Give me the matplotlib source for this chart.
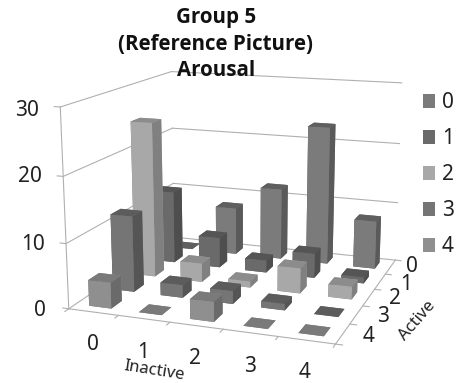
import numpy as np
import matplotlib
matplotlib.use('Agg')
import matplotlib.pyplot as plt
from matplotlib.patches import Patch

W, H = 460, 383
plt.rcParams['font.family'] = ['Noto Sans', 'DejaVu Sans']

inactive = [0, 1, 2, 3, 4]
active = [0, 1, 2, 3, 4]
z_ticks = [0, 10, 20, 30]

# one list per active level, values over inactive 0..4
active_0 = [0, 8, 12, 23, 8]
active_1 = [12, 5, 2, 4, 1]
active_2 = [25, 3, 1, 4, 2]
active_3 = [12, 2, 2, 1, 0]
active_4 = [4, 0, 3, 0, 0]
counts = [active_0, active_1, active_2, active_3, active_4]

legend_colors = ['#7b7b7b', '#6a6a6a', '#a8a8a8', '#757575', '#8f8f8f']
top_colors = ['#5f5f5f', '#555555', '#8c8c8c', '#5c5c5c', '#7a7a7a']
side_colors = ['#5a5a5a', '#4e4e4e', '#808080', '#555555', '#6a6a6a']
GRID = '#b0b0b0'
TEXT = '#222222'
BAR_W = 0.45


def px_x(x):
    return x / W


def px_y(y):
    return 1 - y / H


fig = plt.figure(figsize=(W/100, H/100), dpi=100)
# axes box worked out from a fit of the wall corners
ax = fig.add_axes([36.8/W, (H-396.8)/H, 401.7/W, 401.7/H], projection='3d', computed_zorder=False)
ax.set_xlim(0, 5)
ax.set_ylim(0, 5)
ax.set_zlim(0, 30)
ax.view_init(14.036, -70.383)
ax.set_proj_type('persp', focal_length=0.491)
ax.set_box_aspect((1, 0.971, 0.742))
ax.set_axis_off()
ax.patch.set_alpha(0)

# walls and floor
for z in z_ticks:
    ax.plot([0, 0], [0, 5], [z, z], color=GRID, lw=0.8, zorder=1)
    ax.plot([0, 5], [5, 5], [z, z], color=GRID, lw=0.8, zorder=1)
    ax.plot([0, -0.12], [0, 0], [z, z], color=GRID, lw=0.8, zorder=1)
ax.plot([0, 0], [0, 0], [0, 30], color=GRID, lw=0.8, zorder=1)
ax.plot([0, 5], [0, 0], [0, 0], color=GRID, lw=0.8, zorder=1)
ax.plot([5, 5], [0, 5], [0, 0], color=GRID, lw=0.8, zorder=1)
for t in range(6):
    ax.plot([t, t], [0, -0.15], [0, 0], color=GRID, lw=0.8, zorder=1)
    ax.plot([5, 5.12], [t, t], [0, 0], color=GRID, lw=0.8, zorder=1)

# bars, far ones first
order = 2
for a in active:
    for i in inactive:
        y = 4 - a
        h = counts[a][i]
        faces = [top_colors[a], top_colors[a], legend_colors[a], legend_colors[a], side_colors[a], side_colors[a]]
        ax.bar3d(i + 0.5 - BAR_W/2, y + 0.5 - BAR_W/2, 0, BAR_W, BAR_W, h, color=faces, shade=False,
                 edgecolor='none', zorder=order)
        order += 1

title_lines = ["Group 5", "(Reference Picture)", "Arousal"]
for line, ty in zip(title_lines, [17, 44, 70]):
    fig.text(px_x(216), px_y(ty), line, ha='center', va='center', fontsize=14.8, fontweight='bold',
             family='Open Sans', color='#111111')

# tick labels
x_pos = [(93, 344), (143, 352), (195, 359), (250, 366), (305, 372)]
for v, (tx, ty) in zip(inactive, x_pos):
    fig.text(px_x(tx), px_y(ty), str(v), ha='center', va='center', fontsize=15, color=TEXT)
y_pos = [(412, 266), (406, 284), (395, 299), (383, 316), (369, 336)]
for v, (tx, ty) in zip(active, y_pos):
    fig.text(px_x(tx), px_y(ty), str(v), ha='center', va='center', fontsize=15, color=TEXT)
z_pos = [(40, 311), (33, 244), (30, 177), (27, 111)]
for v, (tx, ty) in zip(z_ticks, z_pos):
    fig.text(px_x(tx), px_y(ty), str(v), ha='center', va='center', fontsize=15, color=TEXT)

fig.text(px_x(154), px_y(371), "Inactive", ha='center', va='center', fontsize=12, rotation=-9, color=TEXT)
fig.text(px_x(417), px_y(321), "Active", ha='center', va='center', fontsize=12, rotation=49, color=TEXT)

handles = [Patch(facecolor=c, edgecolor='none', label=str(v)) for c, v in zip(legend_colors, active)]
leg = fig.legend(handles=handles, loc='upper left', bbox_to_anchor=(px_x(423), px_y(92)), frameon=False,
                 fontsize=15, handlelength=0.6, handleheight=0.65, handletextpad=0.3, labelspacing=0.72,
                 borderpad=0, borderaxespad=0, labelcolor=TEXT)

fig.savefig('out.png', dpi=100)
